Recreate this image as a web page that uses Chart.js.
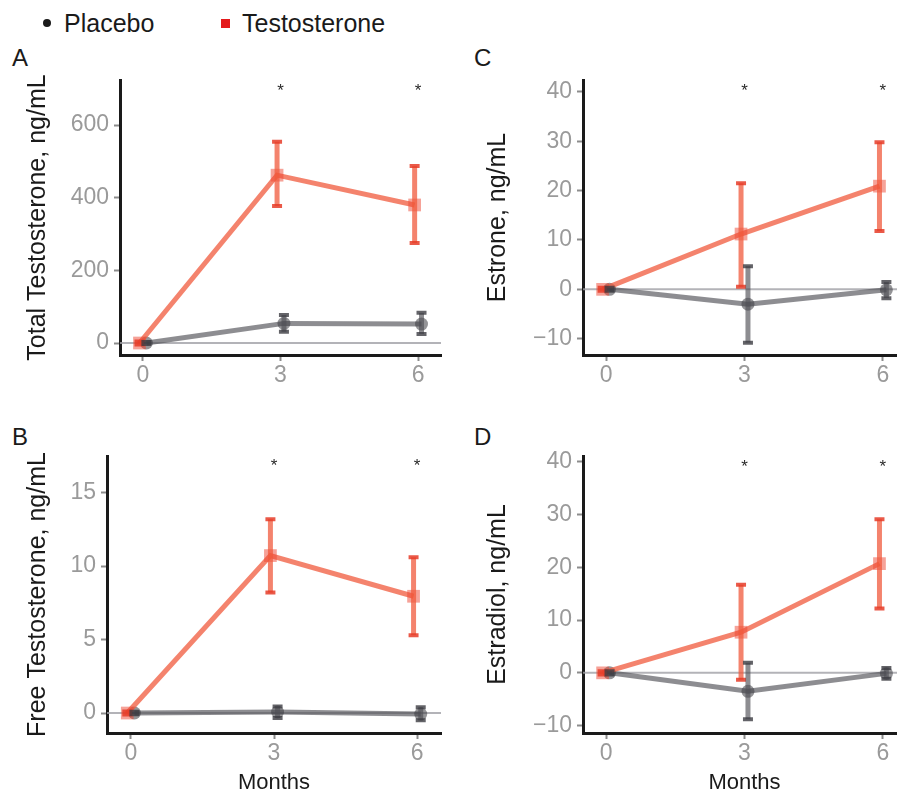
<!DOCTYPE html>
<html>
<head>
<meta charset="utf-8">
<script src="https://cdn.jsdelivr.net/npm/chart.js@4.4.1/dist/chart.umd.min.js"></script>
<style>
  html, body { margin: 0; padding: 0; background: #fff; overflow: hidden; width: 897px; height: 794px; }
  body { position: relative; font-family: "Liberation Sans", Arial, sans-serif; }
  canvas { position: absolute; }
  .lbl { position: absolute; font-size: 24px; line-height: 24px; color: #1a1a1a; white-space: nowrap; }
  .key { position: absolute; font-size: 25px; line-height: 25px; color: #1a1a1a; white-space: nowrap; }
</style>
</head>
<body>
<div class="key" style="left:43px;top:11px;"><span style="display:inline-block;width:8px;height:8px;border-radius:50%;background:#1a1a1a;vertical-align:middle;margin-right:13px;position:relative;top:-2px;"></span>Placebo</div>
<div class="key" style="left:221px;top:11px;"><span style="display:inline-block;width:9px;height:9px;background:#e41a1c;vertical-align:middle;margin-right:12px;position:relative;top:-2px;"></span>Testosterone</div>
<div class="lbl" style="left:12px;top:46px;">A</div>
<div class="lbl" style="left:474px;top:46px;">C</div>
<div class="lbl" style="left:12px;top:425px;">B</div>
<div class="lbl" style="left:474px;top:425px;">D</div>

<canvas id="panelA" width="450" height="400" style="left:0;top:0;"></canvas>
<canvas id="panelC" width="460" height="400" style="left:460px;top:0;"></canvas>
<canvas id="panelB" width="450" height="394" style="left:0;top:400px;"></canvas>
<canvas id="panelD" width="460" height="394" style="left:460px;top:400px;"></canvas>

<script>
// months of follow-up
var months = [0, 3, 6];
var starMonths = [3, 6];

// A: total testosterone (ng/mL change)
var placeboTT   = [0, 54, 52];
var placeboTTLo = [-3, 31, 25];
var placeboTTHi = [3, 77, 83];
var testoTT     = [0, 462, 380];
var testoTTLo   = [-4, 377, 275];
var testoTTHi   = [4, 554, 487];
var ticksTT     = [0, 200, 400, 600];

// B: free testosterone
var placeboFT   = [0, 0.07, -0.07];
var placeboFTLo = [-0.08, -0.34, -0.5];
var placeboFTHi = [0.08, 0.45, 0.4];
var testoFT     = [0, 10.72, 7.95];
var testoFTLo   = [-0.1, 8.2, 5.3];
var testoFTHi   = [0.1, 13.2, 10.6];
var ticksFT     = [0, 5, 10, 15];

// C: estrone
var placeboE1   = [0, -3.0, -0.1];
var placeboE1Lo = [-0.3, -10.8, -1.8];
var placeboE1Hi = [0.3, 4.7, 1.5];
var testoE1     = [0, 11.2, 20.9];
var testoE1Lo   = [-0.3, 0.5, 11.8];
var testoE1Hi   = [0.3, 21.5, 29.8];
var ticksE1     = [-10, 0, 10, 20, 30, 40];

// D: estradiol
var placeboE2   = [0, -3.5, -0.1];
var placeboE2Lo = [-0.3, -8.8, -1.1];
var placeboE2Hi = [0.3, 1.9, 0.9];
var testoE2     = [0, 7.7, 20.7];
var testoE2Lo   = [-0.3, -1.3, 12.2];
var testoE2Hi   = [0.3, 16.7, 29.1];
var ticksE2     = [-10, 0, 10, 20, 30, 40];

var FONT = '"Liberation Sans", Arial, Helvetica, sans-serif';
var DODGE = 0.075;

function pts(vals, shift) {
  return vals.map(function (v, i) { return { x: months[i] + shift, y: v }; });
}

// vertical error bars with caps, placed through the chart's scales
var errorBars = {
  id: 'errorBars',
  afterDatasetsDraw: function (chart) {
    var ctx = chart.ctx, xs = chart.scales.x, ys = chart.scales.y;
    chart.data.datasets.forEach(function (ds) {
      ds.data.forEach(function (p, j) {
        var px = xs.getPixelForValue(p.x);
        var yl = ys.getPixelForValue(ds.errLo[j]);
        var yh = ys.getPixelForValue(ds.errHi[j]);
        ctx.save();
        ctx.strokeStyle = ds.errColor;
        ctx.lineWidth = 5;
        ctx.beginPath(); ctx.moveTo(px, yl); ctx.lineTo(px, yh); ctx.stroke();
        ctx.strokeStyle = ds.capColor;
        ctx.lineWidth = 4;
        ctx.beginPath();
        ctx.moveTo(px - 5, yl); ctx.lineTo(px + 5, yl);
        ctx.moveTo(px - 5, yh); ctx.lineTo(px + 5, yh);
        ctx.stroke();
        ctx.restore();
      });
    });
  }
};

var zeroLine = {
  id: 'zeroLine',
  beforeDatasetsDraw: function (chart) {
    var ctx = chart.ctx, a = chart.chartArea;
    var y0 = chart.scales.y.getPixelForValue(0);
    ctx.save();
    ctx.strokeStyle = 'rgba(160,160,166,0.8)';
    ctx.lineWidth = 2;
    ctx.beginPath(); ctx.moveTo(a.left, y0); ctx.lineTo(a.right, y0); ctx.stroke();
    ctx.restore();
  }
};

var stars = {
  id: 'stars',
  afterDraw: function (chart) {
    var ctx = chart.ctx, xs = chart.scales.x, ys = chart.scales.y;
    var sy = chart.options.plugins.stars.y;
    ctx.save();
    ctx.fillStyle = '#2a2a2a';
    ctx.font = '17px ' + FONT;
    ctx.textAlign = 'center';
    ctx.textBaseline = 'middle';
    starMonths.forEach(function (m) {
      ctx.fillText('*', xs.getPixelForValue(m), ys.getPixelForValue(sy) + 3);
    });
    ctx.restore();
  }
};

function makePanel(id, cfg) {
  var testo = {
    label: 'Testosterone',
    data: pts(cfg.testo, -DODGE),
    errLo: cfg.testoLo, errHi: cfg.testoHi,
    borderColor: 'rgba(240,90,60,0.75)',
    borderWidth: 5,
    pointStyle: 'rect',
    pointRadius: 9,
    pointBackgroundColor: 'rgba(238,70,50,0.5)',
    pointBorderWidth: 0,
    errColor: 'rgba(240,90,60,0.75)',
    capColor: 'rgba(230,60,40,0.85)'
  };
  var placebo = {
    label: 'Placebo',
    data: pts(cfg.placebo, DODGE),
    errLo: cfg.placeboLo, errHi: cfg.placeboHi,
    borderColor: 'rgba(80,80,86,0.65)',
    borderWidth: 5,
    pointStyle: 'circle',
    pointRadius: 6.5,
    pointBackgroundColor: 'rgba(60,60,66,0.55)',
    pointBorderWidth: 0,
    errColor: 'rgba(80,80,86,0.65)',
    capColor: 'rgba(60,60,66,0.8)'
  };
  return new Chart(document.getElementById(id), {
    type: 'line',
    data: { datasets: [testo, placebo] },
    plugins: [zeroLine, errorBars, stars],
    options: {
      responsive: false,
      animation: false,
      layout: { padding: { top: cfg.padTop, right: cfg.padRight, left: 0, bottom: 0 } },
      plugins: {
        legend: { display: false },
        tooltip: { enabled: false },
        stars: { y: cfg.starY }
      },
      scales: {
        x: {
          type: 'linear',
          min: -0.5, max: 6.5,
          afterBuildTicks: function (s) { s.ticks = months.map(function (v) { return { value: v }; }); },
          afterFit: function (s) { s.height = cfg.xHeight; },
          grid: { drawOnChartArea: false, tickLength: 6, tickWidth: 2, tickColor: '#8c8c8c' },
          border: { color: '#1a1a1a', width: 3 },
          ticks: { color: '#9a9a9a', font: { size: 23, family: FONT }, padding: 1, maxRotation: 0, autoSkip: false },
          title: {
            display: cfg.months,
            text: 'Months',
            color: '#1a1a1a',
            font: { size: 22, family: FONT, lineHeight: 1 },
            padding: { top: 0, bottom: 0 }
          }
        },
        y: {
          min: cfg.min, max: cfg.max,
          afterBuildTicks: function (s) { s.ticks = cfg.ticks.map(function (v) { return { value: v }; }); },
          afterFit: function (s) { s.width = cfg.yWidth; },
          grid: { drawOnChartArea: false, tickLength: 6, tickWidth: 2, tickColor: '#8c8c8c' },
          border: { color: '#1a1a1a', width: 3 },
          ticks: {
            color: '#9a9a9a',
            font: { size: 23, family: FONT },
            padding: 5,
            callback: function (v) { return v < 0 ? '\u2212' + Math.abs(v) : String(v); }
          },
          title: {
            display: true,
            text: cfg.title,
            color: '#1a1a1a',
            font: { size: 25, family: FONT },
            padding: { top: 23, bottom: 0 }
          }
        }
      }
    }
  });
}

makePanel('panelA', {
  title: 'Total Testosterone, ng/mL',
  placebo: placeboTT, placeboLo: placeboTTLo, placeboHi: placeboTTHi,
  testo: testoTT, testoLo: testoTTLo, testoHi: testoTTHi,
  ticks: ticksTT, min: -33, max: 724, starY: 701,
  padTop: 80, padRight: 5, yWidth: 120, xHeight: 45, months: false
});
makePanel('panelC', {
  title: 'Estrone, ng/mL',
  placebo: placeboE1, placeboLo: placeboE1Lo, placeboHi: placeboE1Hi,
  testo: testoE1, testoLo: testoE1Lo, testoHi: testoE1Hi,
  ticks: ticksE1, min: -13.3, max: 42.4, starY: 40.7,
  padTop: 80, padRight: 14, yWidth: 123, xHeight: 45, months: false
});
makePanel('panelB', {
  title: 'Free Testosterone, ng/mL',
  placebo: placeboFT, placeboLo: placeboFTLo, placeboHi: placeboFTHi,
  testo: testoFT, testoLo: testoFTLo, testoHi: testoFTHi,
  ticks: ticksFT, min: -1.36, max: 17.5, starY: 17.0,
  padTop: 56, padRight: 5, yWidth: 107, xHeight: 61, months: true
});
makePanel('panelD', {
  title: 'Estradiol, ng/mL',
  placebo: placeboE2, placeboLo: placeboE2Lo, placeboHi: placeboE2Hi,
  testo: testoE2, testoLo: testoE2Lo, testoHi: testoE2Hi,
  ticks: ticksE2, min: -11.4, max: 41.1, starY: 39.5,
  padTop: 56, padRight: 14, yWidth: 123, xHeight: 61, months: true
});
</script>
</body>
</html>
